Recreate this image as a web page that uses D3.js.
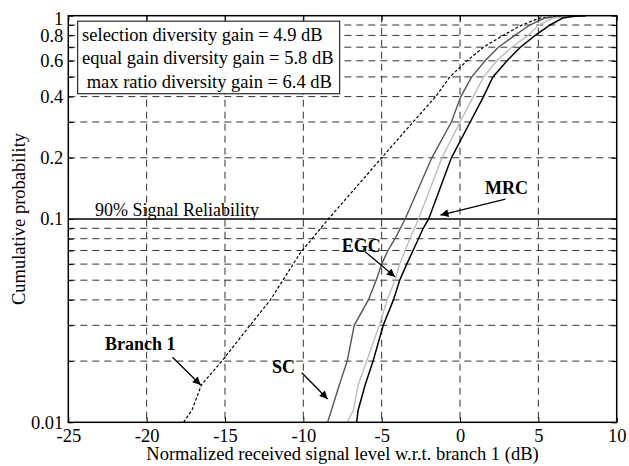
<!doctype html>
<html>
  <head>
    <meta charset="utf-8">
    <title>Diversity combining CDF</title>
    <style>
    body {
      margin: 0;
      background-color: #ffffff;
    }
    svg text {
      font-family: 'Liberation Serif', 'Times New Roman', serif;
    }
    </style>
    <script src="https://cdnjs.cloudflare.com/ajax/libs/d3/7.8.5/d3.min.js"></script>
  </head>
  <body>
    <div id="chart"></div>

    <script>

      // data: signal level (dB) vs cumulative probability
      const branch1X = [-17.65, -17.1, -16.5, -15.2, -13.4, -12.1, -10.2, -8.4, -5.0, -3.0, -1.55, -0.65, 0.45, 1.5, 2.75, 3.95, 5.1, 6.6, 8.0];
      const branch1P = [0.01, 0.0115, 0.0153, 0.02, 0.03, 0.04, 0.068, 0.1, 0.2, 0.3, 0.4, 0.5, 0.6, 0.7, 0.8, 0.9, 0.974, 0.995, 1];

      const scX = [-8.45, -8.2, -7.7, -7.2, -6.75, -5.85, -5.35, -5.0, -4.6, -4.15, -3.5, -1.8, -0.55, 0.05, 0.75, 1.6, 2.45, 3.5, 4.45, 5.4, 6.8, 8.0];
      const scP = [0.01, 0.0115, 0.0153, 0.02, 0.03, 0.04, 0.05, 0.06, 0.07, 0.08, 0.1, 0.2, 0.3, 0.4, 0.5, 0.6, 0.7, 0.8, 0.9, 0.974, 0.995, 1];

      const egcX = [-7.2, -6.8, -6.5, -5.95, -5.15, -4.65, -4.15, -3.85, -3.2, -2.65, -1.15, 0.0, 0.85, 1.5, 2.35, 3.3, 4.35, 5.0, 5.95, 7.0, 8.0];
      const egcP = [0.01, 0.0115, 0.0153, 0.02, 0.03, 0.04, 0.05, 0.06, 0.08, 0.1, 0.2, 0.3, 0.4, 0.5, 0.6, 0.7, 0.8, 0.9, 0.974, 0.995, 1];

      const mrcX = [-6.6, -6.5, -6.05, -5.55, -4.9, -4.25, -3.85, -3.4, -3.0, -2.65, -2.35, -2.0, -0.55, 0.65, 1.5, 2.1, 3.0, 3.85, 4.8, 5.75, 6.55, 7.3, 8.0];
      const mrcP = [0.01, 0.0115, 0.0153, 0.02, 0.03, 0.04, 0.05, 0.06, 0.07, 0.08, 0.09, 0.1, 0.2, 0.3, 0.4, 0.5, 0.6, 0.7, 0.8, 0.9, 0.974, 0.995, 1];

      // ticks
      const xTicks = [-25, -20, -15, -10, -5, 0, 5, 10];
      const yTicks = [0.01, 0.02, 0.03, 0.04, 0.05, 0.06, 0.07, 0.08, 0.09, 0.1, 0.2, 0.3, 0.4, 0.5, 0.6, 0.7, 0.8, 0.9, 1];
      const yLabels = [0.01, 0.1, 0.2, 0.4, 0.6, 0.8, 1];

      // text
      const legendLines = ['selection diversity gain = 4.9 dB', 'equal gain diversity gain = 5.8 dB', ' max ratio diversity gain = 6.4 dB'];
      const reliabilityLevel = 0.1;
      const reliabilityText = '90% Signal Reliability';

      // curve labels with arrows, in data units: label position, arrow start, arrow tip
      const annLabels = ['MRC', 'EGC', 'Branch 1', 'SC'];
      const annTextX = [1.6, -7.55, -22.65, -12.0];
      const annTextP = [0.1327, 0.069, 0.0227, 0.01754];
      const annFromX = [2.9, -6.05, -18.35, -10.1];
      const annFromP = [0.1254, 0.069, 0.0209, 0.01754];
      const annToX = [-1.25, -4.15, -16.55, -8.45];
      const annToP = [0.1046, 0.052, 0.01526, 0.01302];

      const W = 629, H = 466;
      const margin = {left: 68.3, top: 15.7, right: 12.3, bottom: 43.7};
      const width = W - margin.left - margin.right,
            height = H - margin.top - margin.bottom;

      const x = d3.scaleLinear().domain([-25, 10]).range([0, width]);
      const y = d3.scaleLog().domain([0.01, 1]).range([height, 0]);

      const svg = d3.select('#chart')
        .append('svg')
        .attr('width', W)
        .attr('height', H);

      svg.append('rect').attr('width', W).attr('height', H).attr('fill', '#fff');

      const defs = svg.append('defs');
      defs.append('clipPath').attr('id', 'plot-clip')
        .append('rect').attr('width', width).attr('height', height);
      defs.append('marker')
        .attr('id', 'arrow')
        .attr('markerUnits', 'userSpaceOnUse')
        .attr('viewBox', '0 0 10 10')
        .attr('refX', 10).attr('refY', 5)
        .attr('markerWidth', 10).attr('markerHeight', 8)
        .attr('orient', 'auto')
        .append('path')
        .attr('d', 'M0,0 L10,5 L0,10 z')
        .attr('fill', '#000');

      const g = svg.append('g')
        .attr('transform', `translate(${margin.left},${margin.top})`);

      // grid lines
      g.selectAll('.vgrid')
        .data(xTicks.slice(1, -1))
        .join('line')
        .attr('class', 'vgrid')
        .attr('x1', d => x(d)).attr('x2', d => x(d))
        .attr('y1', 0).attr('y2', height)
        .attr('stroke', '#333')
        .attr('stroke-width', 1)
        .attr('stroke-dasharray', '7,5');

      g.selectAll('.hgrid')
        .data(yTicks.filter(d => d !== 0.01 && d !== 1 && d !== reliabilityLevel))
        .join('line')
        .attr('class', 'hgrid')
        .attr('x1', 0).attr('x2', width)
        .attr('y1', d => y(d)).attr('y2', d => y(d))
        .attr('stroke', '#333')
        .attr('stroke-width', 1)
        .attr('stroke-dasharray', '7,5');

      // 90% reliability line
      g.append('line')
        .attr('x1', 0).attr('x2', width)
        .attr('y1', y(reliabilityLevel)).attr('y2', y(reliabilityLevel))
        .attr('stroke', '#000')
        .attr('stroke-width', 1.3);

      g.append('text')
        .attr('x', x(-23.3))
        .attr('y', y(reliabilityLevel) - 3)
        .attr('font-size', 18)
        .text(reliabilityText);

      // curves
      const line = d3.line()
        .x(d => x(d[0]))
        .y(d => y(d[1]));

      const curves = [
        {xs: branch1X, ps: branch1P, color: '#000', w: 1.2, dash: '3,2'},
        {xs: scX, ps: scP, color: '#555', w: 1.4, dash: null},
        {xs: egcX, ps: egcP, color: '#bdbdbd', w: 1.4, dash: null},
        {xs: mrcX, ps: mrcP, color: '#000', w: 1.5, dash: null}
      ];

      g.append('g')
        .attr('clip-path', 'url(#plot-clip)')
        .selectAll('path')
        .data(curves)
        .join('path')
        .attr('d', c => line(c.xs.map((v, i) => [v, c.ps[i]])))
        .attr('fill', 'none')
        .attr('stroke', c => c.color)
        .attr('stroke-width', c => c.w)
        .attr('stroke-dasharray', c => c.dash);

      // axes with inward ticks
      const fmtY = d => yLabels.includes(d) ? String(d) : '';

      const leftAxis = g.append('g')
        .call(d3.axisLeft(y).tickValues(yTicks).tickSize(-5).tickSizeOuter(0).tickPadding(5).tickFormat(fmtY));
      g.append('g')
        .attr('transform', `translate(${width},0)`)
        .call(d3.axisRight(y).tickValues(yTicks).tickSize(-5).tickSizeOuter(0).tickFormat(''));
      g.append('g')
        .attr('transform', `translate(0,${height})`)
        .call(d3.axisBottom(x).tickValues(xTicks).tickSize(-5).tickSizeOuter(0).tickPadding(7).tickFormat(d => String(d)));
      g.append('g')
        .call(d3.axisTop(x).tickValues(xTicks).tickSize(-5).tickSizeOuter(0).tickFormat(''));

      g.selectAll('.domain').remove();
      g.selectAll('.tick line').attr('stroke', '#000');
      g.selectAll('.tick text')
        .attr('fill', '#000')
        .attr('font-size', 18.5)
        .attr('font-family', "'Liberation Serif', 'Times New Roman', serif");

      // keep the top label inside the figure
      leftAxis.selectAll('.tick text')
        .filter(d => d === 1)
        .attr('dy', '0.45em');

      // frame
      g.append('rect')
        .attr('width', width).attr('height', height)
        .attr('fill', 'none')
        .attr('stroke', '#000')
        .attr('stroke-width', 1.5);

      // legend box
      const legend = g.append('g')
        .attr('transform', `translate(${x(-24.4)},${y(0.94)})`);
      legend.append('rect')
        .attr('width', 262)
        .attr('height', 72.6)
        .attr('fill', '#fff')
        .attr('stroke', '#000')
        .attr('stroke-width', 1);
      legend.selectAll('text')
        .data(legendLines)
        .join('text')
        .attr('x', 4.4)
        .attr('y', (d, i) => 20 + i * 23.3)
        .attr('font-size', 18.5)
        .style('white-space', 'pre')
        .text(d => d);

      // curve labels and arrows
      g.selectAll('.ann-line')
        .data(annLabels)
        .join('line')
        .attr('class', 'ann-line')
        .attr('x1', (d, i) => x(annFromX[i]))
        .attr('y1', (d, i) => y(annFromP[i]))
        .attr('x2', (d, i) => x(annToX[i]))
        .attr('y2', (d, i) => y(annToP[i]))
        .attr('stroke', '#000')
        .attr('stroke-width', 1.3)
        .attr('marker-end', 'url(#arrow)');

      g.selectAll('.ann-text')
        .data(annLabels)
        .join('text')
        .attr('class', 'ann-text')
        .attr('x', (d, i) => x(annTextX[i]))
        .attr('y', (d, i) => y(annTextP[i]))
        .attr('font-size', 18)
        .attr('font-weight', 'bold')
        .text(d => d);

      // axis titles
      svg.append('text')
        .attr('x', margin.left + width / 2)
        .attr('y', 459.5)
        .attr('text-anchor', 'middle')
        .attr('font-size', 18.5)
        .text('Normalized received signal level w.r.t. branch 1 (dB)');

      svg.append('text')
        .attr('transform', `translate(25,${margin.top + height / 2}) rotate(-90)`)
        .attr('text-anchor', 'middle')
        .attr('font-size', 18.5)
        .text('Cumulative probability');

    </script>
  </body>
</html>
